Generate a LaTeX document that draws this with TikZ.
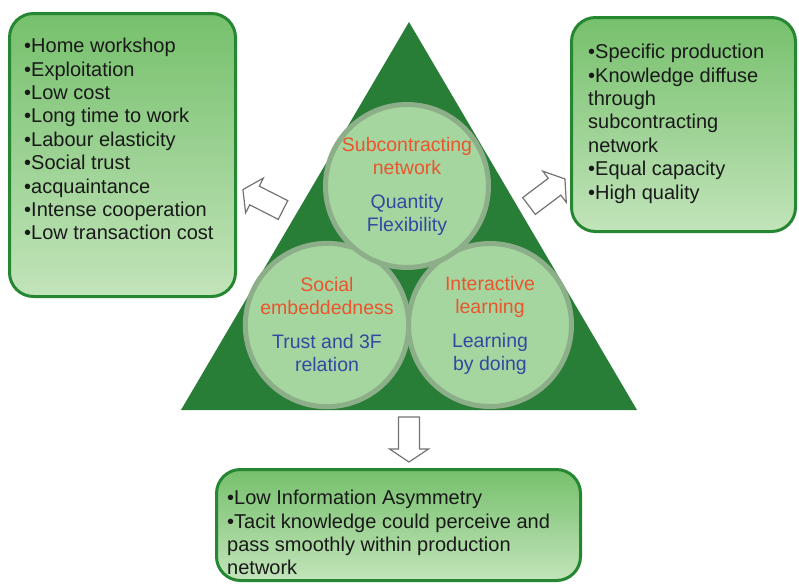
\documentclass[tikz,border=0pt]{standalone}
\usepackage{fontspec}
\setmainfont{Liberation Sans}
\usetikzlibrary{positioning}
\definecolor{leafgreen}{RGB}{40,125,55}
\definecolor{boxtop}{RGB}{118,192,108}
\definecolor{boxbottom}{RGB}{194,228,186}
\definecolor{boxedge}{RGB}{38,135,50}
\definecolor{bubblefill}{RGB}{166,214,160}
\definecolor{bubblerim}{RGB}{140,174,136}
\definecolor{headred}{RGB}{232,86,45}
\definecolor{subblue}{RGB}{52,72,160}

\tikzset{
  panel/.style={draw=boxedge, line width=3pt, rounded corners=24pt,
    top color=boxtop, bottom color=boxbottom, inner sep=0pt, anchor=north west},
  points/.style={anchor=north west, align=left, inner sep=0pt,
    font=\fontsize{20}{23.4}\selectfont, text=black!90},
  bubble/.style={circle, minimum size=163pt, fill=bubblefill, draw=bubblerim,
    line width=5pt, align=center, inner sep=0pt, text=headred,
    font=\fontsize{19.5}{23}\selectfont},
  arrowline/.style={draw=black!55, line width=1.2pt, fill=white},
}

\begin{document}
\begin{tikzpicture}[x=1pt,y=-1pt]
\fill[white] (0,0) rectangle (799,584);
\useasboundingbox (0,0) rectangle (799,584);
% triangle
\fill[leafgreen] (409,22) -- (637,410) -- (181,410) -- cycle;
% the three circles
\node[bubble] (social) at (327,325)
  {Social\\embeddedness\\[11pt]\color{subblue}Trust and 3F\\\color{subblue}relation};
\node[bubble] (learning) at (490,325)
  {Interactive\\learning\\[11pt]\color{subblue}Learning\\\color{subblue}by doing};
\node[bubble] (subnet) at (407,186)
  {Subcontracting\\network\\[11pt]\color{subblue}Quantity\\\color{subblue}Flexibility};
% hollow arrows (tail x / tail y / angle)
\foreach \tx/\ty/\a in {283/210/153, 529/206/37, 409/417/-90}{
  \draw[arrowline,shift={(\tx,\ty)},rotate=\a]
    (0,-10.5) -- (32,-10.5) -- (32,-19.5) -- (45,0) -- (32,19.5) -- (32,10.5) -- (0,10.5) -- cycle;}
% panels
\node[panel, minimum width=226pt, minimum height=283pt] (leftpanel) at (8,12) {};
\node[panel, minimum width=224pt, minimum height=214pt] (rightpanel) at (570,16) {};
\node[panel, minimum width=364pt, minimum height=111pt] (bottompanel) at (215,468) {};
% panel texts
\node[points] (leftlist) at ([xshift=16pt,yshift=-26pt]leftpanel.north west)
  {•Home workshop\\•Exploitation\\•Low cost\\•Long time to work\\•Labour elasticity\\
   •Social trust\\•acquaintance\\•Intense cooperation\\•Low transaction cost};
\node[points] (rightlist) at ([xshift=18pt,yshift=-28pt]rightpanel.north west)
  {•Specific production\\•Knowledge diffuse\\through\\subcontracting\\network\\
   •Equal capacity\\•High quality};
\node[points] (bottomlist) at ([xshift=12pt,yshift=-22pt]bottompanel.north west)
  {•Low Information Asymmetry\\•Tacit knowledge could perceive and\\
   pass smoothly within production\\network};
\end{tikzpicture}
\end{document}
